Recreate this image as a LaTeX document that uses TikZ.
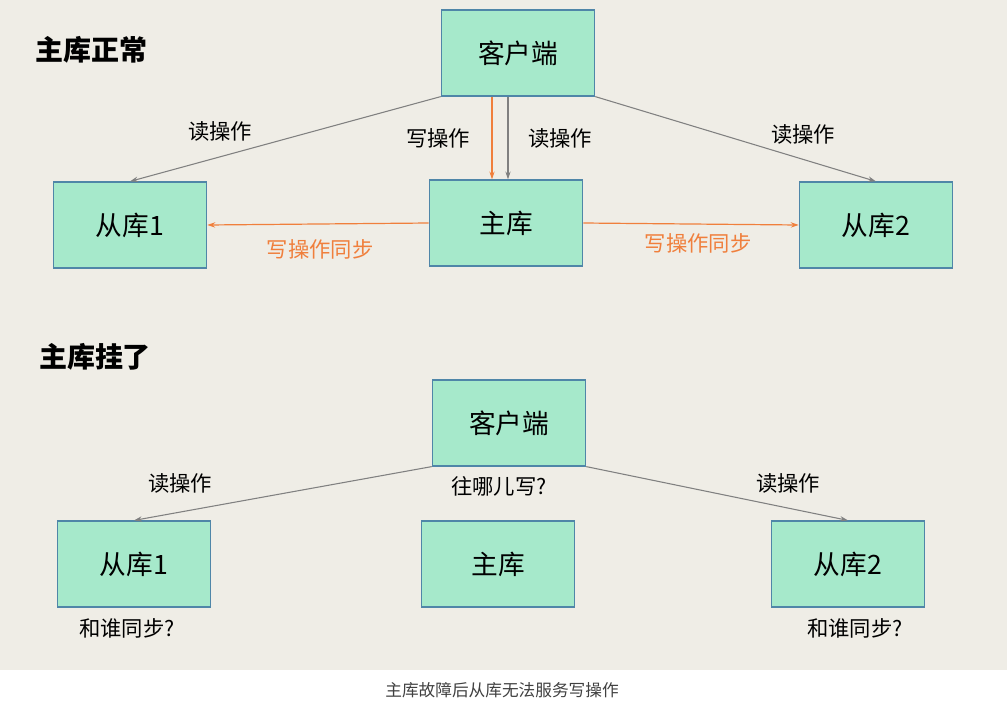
\documentclass[tikz,border=0pt]{standalone}
\usepackage{fontspec}
\setmainfont{Noto Sans CJK SC}
\usetikzlibrary{arrows.meta}
\definecolor{bg}{HTML}{EFEDE6}
\definecolor{box}{HTML}{A6E9CB}
\definecolor{bd}{HTML}{4F86A8}
\definecolor{org}{HTML}{F07F3C}
\definecolor{gr}{HTML}{808080}
\begin{document}
\begin{tikzpicture}[x=0.75pt,y=-0.75pt,
 n/.style={draw=bd,fill=box,line width=0.9pt,minimum width=115pt,minimum height=64.5pt,inner sep=0,font=\fontsize{20}{24}\selectfont},
 lb/.style={font=\fontsize{16}{19}\selectfont},
 ol/.style={lb,text=org},
 tt/.style={font=\fontsize{21}{25}\selectfont\bfseries},
 ga/.style={draw=gr,line width=0.8pt,-{Stealth[length=6pt,width=4pt]}},
 oa/.style={draw=org,line width=0.9pt,-{Stealth[length=6pt,width=4pt]}}]
\fill[bg] (0,0) rectangle (1007,670);
\fill[white] (0,670) rectangle (1007,711);
\useasboundingbox (0,0) rectangle (1007,711);
\node[tt] (t1) at (92,50) {主库正常};
\node[tt] (t2) at (95,357) {主库挂了};
\node[n] (c1) at (518,53) {客户端};
\node[n] (s1) at (130,225) {从库1};
\node[n] (m1) at (506,223) {主库};
\node[n] (r1) at (876,225) {从库2};
\node[n] (c2) at (509,423) {客户端};
\node[n] (s2) at (134,564) {从库1};
\node[n] (m2) at (498,564) {主库};
\node[n] (r2) at (848,564) {从库2};
\draw[ga] (c1.south west) -- (s1.north);
\draw[ga] (c1.south east) -- (r1.north);
\draw[oa] (c1.south -| 492,0) -- (m1.north -| 492,0);
\draw[ga] (c1.south -| 508,0) -- (m1.north -| 508,0);
\draw[oa] (m1.west) -- (s1.east);
\draw[oa] (m1.east) -- (r1.west);
\draw[ga] (c2.south west) -- (s2.north);
\draw[ga] (c2.south east) -- (r2.north);
\node[lb] (l1) at (220,131) {读操作};
\node[lb] (l2) at (438,138) {写操作};
\node[lb] (l3) at (560,138) {读操作};
\node[lb] (l4) at (803,134) {读操作};
\node[ol] (l5) at (320,249) {写操作同步};
\node[ol] (l6) at (698,243) {写操作同步};
\node[lb] (l7) at (180,483) {读操作};
\node[lb] (l8) at (499,486) {往哪儿写?};
\node[lb] (l9) at (788,483) {读操作};
\node[lb] (l10) at (127,628) {和谁同步?};
\node[lb] (l11) at (855,628) {和谁同步?};
\node[font=\fontsize{12.5}{15}\selectfont,text=black!75] (cap) at (502,690) {主库故障后从库无法服务写操作};
\end{tikzpicture}
\end{document}
